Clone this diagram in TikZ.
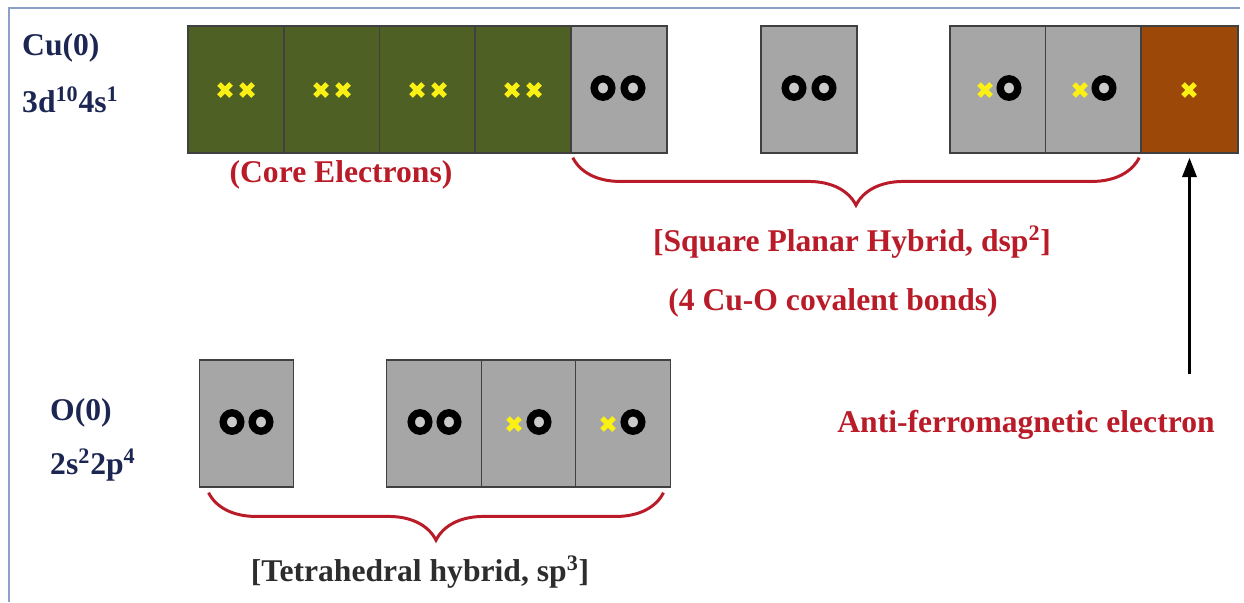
\documentclass[tikz,border=0pt]{standalone}
\usepackage{fontspec}
\setmainfont{Liberation Serif}
\usepackage{tikz}
\usetikzlibrary{arrows.meta, decorations.pathreplacing}
\usepackage{xcolor}
\definecolor{coregreen}{RGB}{79,96,36}
\definecolor{orbgray}{RGB}{166,166,166}
\definecolor{rust}{RGB}{156,72,8}
\definecolor{elyellow}{RGB}{250,240,20}
\definecolor{labred}{RGB}{185,28,40}
\definecolor{navy}{RGB}{28,38,82}
\definecolor{framebl}{RGB}{140,160,200}
\definecolor{darktext}{RGB}{45,45,45}

% electron marks
\newcommand{\ecross}[2]{\draw[elx] (#1,#2) +(-6,-6) -- +(6,6) +(-6,6) -- +(6,-6);}
\newcommand{\ering}[2]{\draw[elo] (#1,#2) ellipse (8.8 and 9.2);}

\begin{document}
\begin{tikzpicture}[x=0.02cm, y=-0.02cm,
  orb/.style={draw=black!75, line width=0.8pt, minimum width=1.92cm, minimum height=2.54cm, inner sep=0pt},
  orbo/.style={orb, minimum width=1.89cm},
  lbl/.style={font=\bfseries\fontsize{18}{20}\selectfont},
  elx/.style={elyellow, line width=2.9pt},
  elo/.style={black, line width=4.2pt, fill=orbgray!60},
  brc/.style={labred, line width=1.7pt, decorate, decoration={brace, mirror, amplitude=0.95cm}}]
  \useasboundingbox (0,0) rectangle (1244,602);
  \draw[framebl, line width=0.8pt] (9,602) -- (9,8) -- (1240,8);

  % Cu row
  \node[orb, fill=coregreen] (c1) at (236,89.5) {};
  \node[orb, fill=coregreen] (c2) at (332,89.5) {};
  \node[orb, fill=coregreen] (c3) at (427.5,89.5) {};
  \node[orb, fill=coregreen] (c4) at (523,89.5) {};
  \node[orb, fill=orbgray] (g1) at (619,89.5) {};
  \node[orb, fill=orbgray] (g2) at (809,89.5) {};
  \node[orb, fill=orbgray] (g3) at (998,89.5) {};
  \node[orb, fill=orbgray] (g4) at (1093.5,89.5) {};
  \node[orb, fill=rust, minimum width=1.94cm] (afmbox) at (1189.5,89.5) {};
  % core electrons
  \ecross{225}{90} \ecross{247}{90}
  \ecross{321}{90} \ecross{343}{90}
  \ecross{417}{90} \ecross{439}{90}
  \ecross{512}{90} \ecross{534}{90}
  % hybrid electrons
  \ering{603}{88} \ering{633}{88}
  \ering{794}{88} \ering{824}{88}
  \ecross{985}{90} \ering{1009}{88}
  \ecross{1080}{90} \ering{1104}{88}
  \ecross{1189}{90}

  % O row
  \node[orbo, fill=orbgray] (o1) at (246.5,423.5) {};
  \node[orbo, fill=orbgray] (o2) at (434,423.5) {};
  \node[orbo, fill=orbgray] (o3) at (528.5,423.5) {};
  \node[orbo, fill=orbgray] (o4) at (623,423.5) {};
  \ering{232}{422} \ering{261}{422}
  \ering{420}{422} \ering{449}{422}
  \ecross{514}{424} \ering{539}{422}
  \ecross{608}{424} \ering{633}{422}

  % labels
  \node[lbl, navy, anchor=west] (cu) at (16,48) {Cu(0)};
  \node[lbl, navy, anchor=west] (cucfg) at (16,100) {3d\textsuperscript{10}4s\textsuperscript{1}};
  \node[lbl, navy, anchor=west] (ox) at (44,413) {O(0)};
  \node[lbl, navy, anchor=west] (oxcfg) at (44,465) {2s\textsuperscript{2}2p\textsuperscript{4}};
  \node[lbl, labred] (core) at (341,175) {(Core Electrons)};
  \node[lbl, labred] (sqp) at (852,242) {[Square Planar Hybrid, dsp\textsuperscript{2}]};
  \node[lbl, labred] (bonds) at (833,303) {(4 Cu-O covalent bonds)};
  \node[lbl, labred] (afm) at (1026,425) {Anti-ferromagnetic electron};
  \node[lbl, darktext] (tet) at (420,572) {[Tetrahedral hybrid, sp\textsuperscript{3}]};

  % braces
  \draw[brc] ([xshift=0.05cm, yshift=-0.08cm]g1.south west) -- ([xshift=-0.06cm, yshift=-0.08cm]g4.south east);
  \draw[brc] ([xshift=0.2cm, yshift=-0.1cm]o1.south west) -- ([xshift=-0.15cm, yshift=-0.1cm]o4.south east);
  % arrow
  \draw[-{Triangle[length=11pt, width=8pt]}, line width=1.7pt, shorten <=0.6cm, shorten >=0.08cm] (afmbox.south |- afm.north) -- (afmbox.south);
\end{tikzpicture}
\end{document}
